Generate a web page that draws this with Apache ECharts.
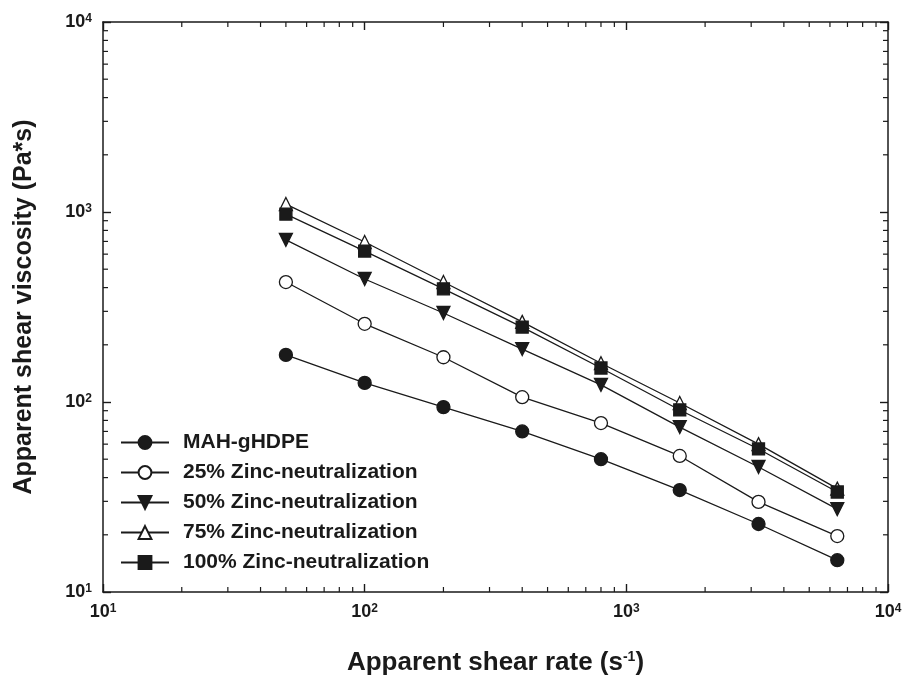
<!DOCTYPE html>
<html>
<head>
<meta charset="UTF-8">
<title>Apparent shear viscosity</title>
<script src="https://cdn.jsdelivr.net/npm/echarts@6/dist/echarts.min.js"></script>
<style>
  html, body { margin: 0; padding: 0; background: #fff; }
  #chart { width: 907px; height: 682px; }
</style>
</head>
<body>
<div id="chart"></div>
<script>
// apparent shear rate (1/s)
var shearRate = [50, 100, 200, 400, 800, 1600, 3200, 6400];
// apparent shear viscosity (Pa*s)
var mahHdpe = [177, 126, 94, 70, 50, 34.4, 22.8, 14.7];
var zinc25 = [428, 258, 172, 106, 77.5, 52, 29.8, 19.7];
var zinc50 = [713, 444, 294, 190, 123, 73.8, 45.5, 27.3];
var zinc75 = [1101, 695, 428, 264, 160, 98.8, 60, 35];
var zinc100 = [975, 623, 394, 248, 151, 90.8, 56.6, 33.6];

var seriesNames = ['MAH-gHDPE', '25% Zinc-neutralization', '50% Zinc-neutralization',
    '75% Zinc-neutralization', '100% Zinc-neutralization'];

// minor tick positions of the log axes
var xMinorTicks = [20, 30, 40, 50, 60, 70, 80, 90, 200, 300, 400, 500, 600, 700, 800, 900,
    2000, 3000, 4000, 5000, 6000, 7000, 8000, 9000];
var yMinorTicks = [20, 30, 40, 50, 60, 70, 80, 90, 200, 300, 400, 500, 600, 700, 800, 900,
    2000, 3000, 4000, 5000, 6000, 7000, 8000, 9000];

var FONT = '"Liberation Sans", Arial, sans-serif';
var INK = '#1a1a1a';

function pairs(ys) {
    return shearRate.map(function (x, i) { return [x, ys[i]]; });
}

function powLabel(v) {
    return '10{s|' + Math.round(Math.log10(v)) + '}';
}

var labelRich = {
    s: { fontSize: 12, fontWeight: 'bold', fontFamily: FONT, color: INK, verticalAlign: 'top', lineHeight: 12 }
};

function lineSeries(name, ys, symbol, fill, size, rotate) {
    return {
        name: name,
        type: 'line',
        data: pairs(ys),
        symbol: symbol,
        symbolSize: size,
        symbolRotate: rotate || 0,
        showAllSymbol: true,
        lineStyle: { color: INK, width: 1.3 },
        itemStyle: { color: fill, borderColor: INK, borderWidth: 1.3 },
        z: 3
    };
}

// short inside ticks drawn on both sides of the frame
function minorTickSeries(values, isX) {
    return {
        type: 'custom',
        silent: true,
        z: 1,
        data: values.map(function (v) { return isX ? [v, 10] : [10, v]; }),
        renderItem: function (params, api) {
            var v = api.value(isX ? 0 : 1);
            var a = isX ? api.coord([v, 10]) : api.coord([10, v]);
            var b = isX ? api.coord([v, 10000]) : api.coord([10000, v]);
            var len = 5;
            var st = { stroke: INK, lineWidth: 1.2 };
            return {
                type: 'group',
                children: isX ? [
                    { type: 'line', shape: { x1: a[0], y1: a[1], x2: a[0], y2: a[1] - len }, style: st },
                    { type: 'line', shape: { x1: b[0], y1: b[1], x2: b[0], y2: b[1] + len }, style: st }
                ] : [
                    { type: 'line', shape: { x1: a[0], y1: a[1], x2: a[0] + len, y2: a[1] }, style: st },
                    { type: 'line', shape: { x1: b[0], y1: b[1], x2: b[0] - len, y2: b[1] }, style: st }
                ]
            };
        }
    };
}

var axisLine = { show: true, onZero: false, lineStyle: { color: INK, width: 1.5 } };
var majorTick = { show: true, inside: true, length: 8, lineStyle: { color: INK, width: 1.4 } };

var chart = echarts.init(document.getElementById('chart'));
chart.setOption({
    animation: false,
    backgroundColor: '#fff',
    grid: { left: 103, right: 19, top: 22, bottom: 90 },
    legend: {
        data: seriesNames,
        orient: 'vertical',
        left: 120,
        top: 432,
        padding: 0,
        itemWidth: 48,
        itemHeight: 16,
        itemGap: 9,
        textStyle: { fontFamily: FONT, fontSize: 21, fontWeight: 'bold', color: INK, padding: [0, 0, 0, 9] }
    },
    xAxis: [{
        type: 'log',
        logBase: 10,
        min: 10,
        max: 10000,
        position: 'bottom',
        name: 'Apparent shear rate (s{s|-1})',
        nameLocation: 'middle',
        nameGap: 58,
        nameTextStyle: {
            fontFamily: FONT, fontSize: 26, fontWeight: 'bold', color: INK,
            rich: { s: { fontSize: 14, fontWeight: 'bold', fontFamily: FONT, color: INK, verticalAlign: 'top', lineHeight: 14 } }
        },
        axisLine: axisLine,
        axisTick: majorTick,
        splitLine: { show: false },
        axisLabel: {
            margin: 11,
            formatter: powLabel,
            fontFamily: FONT, fontSize: 18, fontWeight: 'bold', color: INK,
            rich: labelRich
        }
    }, {
        type: 'log',
        logBase: 10,
        min: 10,
        max: 10000,
        position: 'top',
        axisLine: axisLine,
        axisTick: majorTick,
        axisLabel: { show: false },
        splitLine: { show: false }
    }],
    yAxis: [{
        type: 'log',
        logBase: 10,
        min: 10,
        max: 10000,
        position: 'left',
        name: 'Apparent shear viscosity (Pa*s)',
        nameLocation: 'middle',
        nameGap: 66,
        nameTextStyle: { fontFamily: FONT, fontSize: 25, fontWeight: 'bold', color: INK },
        axisLine: axisLine,
        axisTick: majorTick,
        splitLine: { show: false },
        axisLabel: {
            margin: 11,
            formatter: powLabel,
            fontFamily: FONT, fontSize: 18, fontWeight: 'bold', color: INK,
            rich: labelRich
        }
    }, {
        type: 'log',
        logBase: 10,
        min: 10,
        max: 10000,
        position: 'right',
        axisLine: axisLine,
        axisTick: majorTick,
        axisLabel: { show: false },
        splitLine: { show: false }
    }],
    series: [
        minorTickSeries(xMinorTicks, true),
        minorTickSeries(yMinorTicks, false),
        lineSeries(seriesNames[0], mahHdpe, 'circle', INK, 13),
        lineSeries(seriesNames[1], zinc25, 'circle', '#fff', 13),
        lineSeries(seriesNames[2], zinc50, 'triangle', INK, 13, 180),
        lineSeries(seriesNames[3], zinc75, 'triangle', '#fff', 13),
        lineSeries(seriesNames[4], zinc100, 'rect', INK, 12)
    ]
});
</script>
</body>
</html>
